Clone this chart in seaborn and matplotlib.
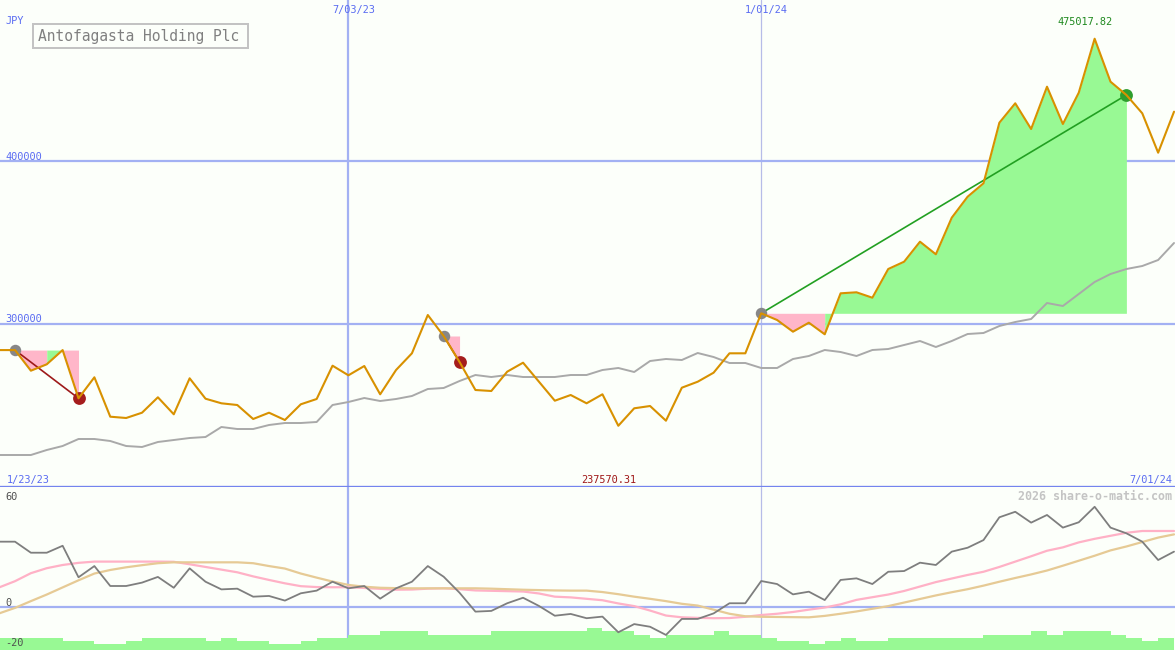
import pandas as pd
import matplotlib
matplotlib.use('Agg')
import matplotlib.pyplot as plt
import matplotlib.dates as mdates
from matplotlib.patches import Rectangle
import seaborn as sns

# weekly closes (JPY), first point 2023-01-30
dates = pd.date_range('2023-01-30', periods=75, freq='7D')
price = [284000, 284000, 271350, 275280, 284000, 254400, 267300, 243130, 242330, 245580,
         255030, 244600, 266690, 254170, 251350, 250300, 241720, 245580, 241100, 250740,
         253990, 274420, 268530, 274230, 256870, 271780, 282020, 305520, 292640, 276680,
         259510, 258900, 270740, 276260, 264600, 252940, 256440, 251350, 256870, 237570.31,
         248280, 249690, 240670, 260920, 264600, 270120, 282020, 282020, 306560, 302450,
         295280, 300800, 293680, 318830, 319450, 316130, 333740, 338220, 350490, 342760,
         365210, 378100, 386320, 423500, 435400, 419630, 445580, 422700, 441900, 475017.82,
         448650, 440490, 429260, 405090, 430250]
avg_line = [219630, 219630, 219630, 222700, 225150, 229450, 229450, 228220, 225150, 224540,
            227610, 228830, 230060, 230670, 236810, 235580, 235580, 238040, 239260, 239260,
            239880, 250310, 252150, 254600, 252760, 253990, 255830, 260120, 260740, 265030,
            268710, 267480, 268710, 267480, 267480, 267480, 268710, 268710, 271780, 273010,
            270550, 277300, 278530, 277910, 282210, 279750, 276070, 276070, 273010, 273010,
            278530, 280370, 284050, 282820, 280370, 284050, 284660, 287120, 289570, 285890,
            289570, 293860, 294480, 298770, 301230, 303070, 312880, 311040, 318400, 325770,
            330670, 333740, 335580, 339260, 349690]

# lower panel indicator
momentum = [36.7, 36.7, 30.5, 30.5, 34.4, 16.7, 23.0, 11.8, 11.8, 13.7,
            16.9, 10.8, 21.7, 14.2, 9.9, 10.3, 5.8, 6.2, 3.6, 7.7,
            9.2, 14.2, 10.5, 11.8, 4.7, 10.5, 14.2, 23.0, 17.0, 8.0,
            -2.6, -2.2, 2.1, 5.2, 0.6, -4.9, -3.9, -6.3, -5.4, -14.2,
            -9.6, -11.1, -15.7, -6.7, -6.7, -3.6, 2.1, 2.1, 14.6, 12.9,
            7.1, 8.6, 3.9, 15.2, 16.1, 12.9, 19.8, 20.2, 24.9, 23.6,
            31.1, 33.3, 37.6, 50.4, 53.5, 47.4, 51.7, 44.6, 47.6, 56.3,
            44.6, 41.4, 36.7, 26.4, 31.1]
signal_fast = [11.0, 14.5, 19.0, 21.8, 23.6, 24.8, 25.5, 25.5, 25.5, 25.5,
               25.5, 25.4, 24.0, 22.5, 21.0, 19.5, 17.2, 15.2, 13.3, 11.7,
               11.2, 11.1, 11.1, 10.7, 10.2, 9.7, 9.8, 10.3, 10.5, 10.0,
               9.3, 9.1, 8.9, 8.7, 7.6, 5.8, 5.4, 4.6, 3.8, 2.0,
               0.5, -2.0, -4.8, -5.8, -6.1, -6.3, -6.2, -5.5, -4.5, -3.8,
               -2.8, -1.5, -0.3, 1.5, 4.0, 5.5, 7.0, 9.0, 11.5, 14.0,
               16.0, 18.0, 19.8, 22.5, 25.5, 28.5, 31.6, 33.5, 36.3, 38.3,
               40.0, 41.7, 42.7, 42.7, 42.7]
signal_slow = [-3.6, -0.5, 3.3, 7.0, 11.0, 15.0, 18.8, 20.8, 22.3, 23.5,
               24.6, 25.1, 25.1, 25.1, 25.1, 25.1, 24.6, 23.0, 21.6, 18.8,
               16.5, 14.3, 12.4, 11.4, 10.8, 10.6, 10.5, 10.5, 10.5, 10.5,
               10.5, 10.3, 10.0, 9.7, 9.5, 9.3, 9.2, 9.2, 8.4, 7.2,
               5.8, 4.6, 3.3, 1.8, 0.8, -1.5, -3.8, -5.2, -5.5, -5.6,
               -5.7, -5.8, -5.0, -3.8, -2.5, -1.0, 0.5, 2.5, 4.5, 6.5,
               8.3, 10.0, 12.0, 14.2, 16.3, 18.3, 20.5, 23.2, 26.0, 28.8,
               31.8, 34.0, 36.5, 39.0, 40.8]
volume_bars = [-17.2, -17.2, -17.2, -17.2, -19.1, -19.1, -20.8, -20.8, -19.1, -17.2,
               -17.2, -17.2, -17.2, -19.1, -17.2, -19.1, -19.1, -20.8, -20.8, -19.1,
               -17.2, -17.2, -15.7, -15.7, -13.5, -13.5, -13.5, -15.7, -15.7, -15.7,
               -15.7, -13.5, -13.5, -13.5, -13.5, -13.5, -13.5, -11.6, -13.5, -13.5,
               -15.7, -17.2, -15.7, -15.7, -15.7, -13.5, -15.7, -15.7, -17.2, -19.1,
               -19.1, -20.8, -19.1, -17.2, -19.1, -19.1, -17.2, -17.2, -17.2, -17.2,
               -17.2, -17.2, -15.7, -15.7, -15.7, -13.5, -15.7, -13.5, -13.5, -13.5,
               -15.7, -17.2, -19.1, -17.2, -17.2]

# trades: positions in the arrays above
trade_entry = [1, 28, 48]
trade_exit = [5, 29, 71]
trade_won = [False, False, True]
trade_fill = [['loss', 'loss', 'gain', 'loss'], ['loss'], ['loss'] * 4 + ['gain'] * 19]

df = pd.DataFrame({'date': dates, 'price': price, 'avg': avg_line, 'momentum': momentum,
                   'fast': signal_fast, 'slow': signal_slow, 'bars': volume_bars})

BG = '#fcfffa'
ORANGE = '#d89100'
AVG_GREY = '#a9a9a9'
MOM_GREY = '#7e7e7e'
PINK_LINE = '#ffb1c6'
TAN_LINE = '#e6ca95'
FILL = {'loss': '#ffb6c9', 'gain': '#98f994'}
GRID = '#a3b1f3'
GRID_THIN = '#b6bce8'
DIVIDER = '#7484ee'
BLUE_TXT = '#5a6cf2'

sns.set_style('white')
plt.rcParams['font.family'] = ['DejaVu Sans Mono', 'DejaVu Sans']

W, H = 1175, 650
split = 487          # pixel row of the panel divider
px_per_100k = 163
zero_row, px_per_unit = 607, 1.78
px_per_day = 15.877 / 7

fig = plt.figure(figsize=(W / 100, H / 100), dpi=100, facecolor=BG)
ax = fig.add_axes([0, (H - split) / H, 1, split / H])
axb = fig.add_axes([0, 0, 1, (H - split) / H])

x0 = mdates.date2num(dates[1]) - 15 / px_per_day
x1 = x0 + W / px_per_day

# ---- price panel
for a in (ax, axb):
    a.set_facecolor(BG)
    a.axvline(pd.Timestamp('2023-07-03'), color=GRID, lw=1.6, zorder=1)
    a.axvline(pd.Timestamp('2024-01-01'), color=GRID_THIN, lw=0.9, zorder=1)
ax.axhline(400000, color=GRID, lw=1.6, zorder=1)
ax.axhline(300000, color=GRID, lw=1.6, zorder=1)

for e, x, won, segs in zip(trade_entry, trade_exit, trade_won, trade_fill):
    level = price[e]
    # merge runs of the same colour so no seams appear between weeks
    start = e
    for k in range(e, x):
        kind = segs[k - e]
        last = k == x - 1 or segs[k - e + 1] != kind
        if last:
            ax.fill_between(dates[start:k + 2], level, price[start:k + 2],
                            color=FILL[kind], lw=0, zorder=2)
            start = k + 1
    ax.plot([dates[e], dates[x]], [price[e], price[x]],
            color='#22a022' if won else '#9e1a1a', lw=1.2, zorder=4)
    ax.scatter([dates[e]], [price[e]], s=68, color='#878787', lw=0, zorder=5)
    ax.scatter([dates[x]], [price[x]], s=85, color='#2e9e2e' if won else '#a51d1d', lw=0, zorder=5)

sns.lineplot(data=df, x='date', y='avg', ax=ax, color=AVG_GREY, linewidth=1.4, zorder=3)
sns.lineplot(data=df, x='date', y='price', ax=ax, color=ORANGE, linewidth=1.5, zorder=6)

ax.set_xlim(x0, x1)
ax.set_ylim(200000, 200000 + split / px_per_100k * 100000)

# ---- indicator panel
axb.axhline(0, color=GRID, lw=1.6, zorder=1)
axb.fill_between(dates, -40, df['bars'], step='post', color=FILL['gain'], lw=0, zorder=3)
sns.lineplot(data=df, x='date', y='fast', ax=axb, color=PINK_LINE, linewidth=1.6, zorder=4)
sns.lineplot(data=df, x='date', y='slow', ax=axb, color=TAN_LINE, linewidth=1.6, zorder=4)
sns.lineplot(data=df, x='date', y='momentum', ax=axb, color=MOM_GREY, linewidth=1.3, zorder=5)
axb.set_xlim(x0, x1)
axb.set_ylim(-(H - zero_row) / px_per_unit, (zero_row - split) / px_per_unit)

for a in (ax, axb):
    a.set(xlabel='', ylabel='', xticks=[], yticks=[])
    for s in a.spines.values():
        s.set_visible(False)
ax.spines['bottom'].set_visible(True)
ax.spines['bottom'].set_color(DIVIDER)
ax.spines['bottom'].set_linewidth(2.4)
ax.spines['bottom'].set_zorder(10)


def px_text(x, y, s, **kw):
    kw.setdefault('fontsize', 7.4)
    kw.setdefault('va', 'baseline')
    fig.text(x / W, 1 - y / H, s, **kw)


px_text(5, 24.5, 'JPY', color=BLUE_TXT)
px_text(5, 159.5, '400000', color=BLUE_TXT)
px_text(5, 322.5, '300000', color=BLUE_TXT)
px_text(353.5, 13, '7/03/23', color=BLUE_TXT, ha='center')
px_text(766, 13, '1/01/24', color=BLUE_TXT, ha='center')
px_text(7, 483, '1/23/23', color=BLUE_TXT)
px_text(1172, 483, '7/01/24', color=BLUE_TXT, ha='right')
px_text(609, 483, '237570.31', color='#a01818', ha='center')
px_text(1085, 25, '475017.82', color='#208a20', ha='center')
px_text(5.5, 500, '60', color='#505050')
px_text(5.5, 606, '0', color='#505050')
px_text(5.5, 645.5, '-20', color='#505050')
px_text(1172, 500.5, '2026 share-o-matic.com', color='#c4c4c4', ha='right',
        fontsize=8.4, fontweight='bold')

fig.add_artist(Rectangle((33 / W, 1 - 48 / H), 215 / W, 24 / H, transform=fig.transFigure,
                         facecolor='none', edgecolor='#c3c3c3', lw=1.44))
px_text(38, 40.7, 'Antofagasta Holding Plc', color='#808080', fontsize=10.5)

fig.savefig('out.png', dpi=100, facecolor=BG)
